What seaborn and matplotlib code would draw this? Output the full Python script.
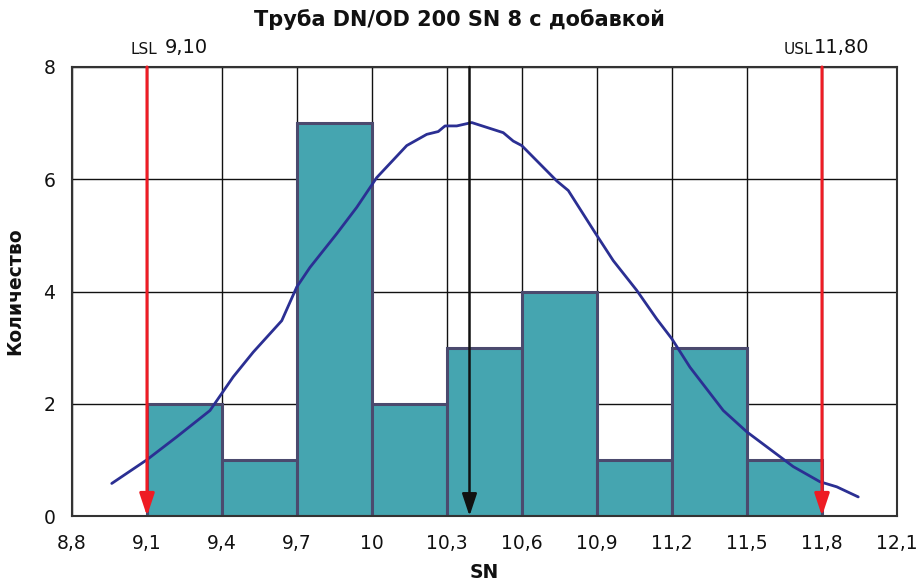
import numpy as np
import pandas as pd
import matplotlib
matplotlib.use('Agg')
import matplotlib.pyplot as plt
import seaborn as sns

### data
bin_edges = [9.1, 9.4, 9.7, 10.0, 10.3, 10.6, 10.9, 11.2, 11.5, 11.8]
counts = [2, 1, 7, 2, 3, 4, 1, 3, 1]

# fitted curve
curve_x = [8.959, 9.099, 9.219, 9.352, 9.445, 9.525, 9.639, 9.699, 9.752, 9.859,
           9.939, 10.019, 10.139, 10.219, 10.265, 10.292, 10.339, 10.399, 10.525,
           10.565, 10.599, 10.739, 10.785, 10.892, 10.965, 11.059, 11.139, 11.199,
           11.272, 11.405, 11.499, 11.685, 11.792, 11.859, 11.945]
curve_y = [0.58, 1.00, 1.41, 1.88, 2.48, 2.92, 3.48, 4.08, 4.43, 5.03,
           5.50, 6.03, 6.60, 6.80, 6.85, 6.95, 6.95, 7.01, 6.83,
           6.68, 6.60, 5.97, 5.80, 5.05, 4.55, 4.02, 3.51, 3.16,
           2.65, 1.88, 1.50, 0.88, 0.61, 0.52, 0.34]

lsl = 9.10
usl = 11.80
mean = 10.39

x_ticks = [8.8, 9.1, 9.4, 9.7, 10.0, 10.3, 10.6, 10.9, 11.2, 11.5, 11.8, 12.1]
x_ticklabels = ['8,8', '9,1', '9,4', '9,7', '10', '10,3', '10,6', '10,9',
                '11,2', '11,5', '11,8', '12,1']
y_ticks = [0, 2, 4, 6, 8]

title = 'Труба DN/OD 200 SN 8 с добавкой'

#%% plot
sns.set_style('white')
plt.rcParams['font.family'] = ['DejaVu Sans']

bins_df = pd.DataFrame({
    'center': [(a + b) / 2 for a, b in zip(bin_edges[:-1], bin_edges[1:])],
    'count': counts})
curve_df = pd.DataFrame({'x': curve_x, 'y': curve_y})

fig = plt.figure(figsize=(9.18, 5.84), dpi=100)
ax = fig.add_axes([72 / 918, 1 - 516 / 584, (897 - 72) / 918, (516 - 67) / 584])

sns.histplot(data=bins_df, x='center', weights='count', bins=bin_edges, ax=ax,
             color='#45a5b0', alpha=1, edgecolor='#4b4a6e', linewidth=2.2, zorder=2)
sns.lineplot(data=curve_df, x='x', y='y', sort=False, ax=ax,
             color='#2b2f93', linewidth=2.0, zorder=3)

# spec limits and mean
for xv, col, lw in [(lsl, '#ee1c24', 2.2), (usl, '#ee1c24', 2.2), (mean, '#111111', 1.8)]:
    ax.annotate('', xy=(xv, 0), xytext=(xv, 8),
                arrowprops=dict(arrowstyle='-|>,head_width=0.3,head_length=0.9',
                                color=col, lw=lw,
                                mutation_scale=15, shrinkA=0, shrinkB=0),
                zorder=4)

ax.text(9.032, 8.17, 'LSL', fontsize=11, color='#111111', ha='left', va='bottom')
ax.text(9.172, 8.17, '9,10', fontsize=14, color='#111111', ha='left', va='bottom')
ax.text(11.648, 8.17, 'USL', fontsize=11, color='#111111', ha='left', va='bottom')
ax.text(11.768, 8.17, '11,80', fontsize=14, color='#111111', ha='left', va='bottom')

ax.set_xlim(8.8, 12.1)
ax.set_ylim(0, 8)
ax.set_xticks(x_ticks)
ax.set_xticklabels(x_ticklabels)
ax.set_yticks(y_ticks)
ax.tick_params(length=0, labelsize=13.5, colors='#111111')
ax.tick_params(axis='x', pad=13)
ax.tick_params(axis='y', pad=12)

ax.grid(True, color='#111111', linewidth=1.0, zorder=0)
ax.set_axisbelow(True)
for s in ax.spines.values():
    s.set_color('#333333')
    s.set_linewidth(1.5)

ax.set_xlabel('SN', fontsize=13.5, fontweight='bold', labelpad=7, color='#111111')
ax.set_ylabel('Количество', fontsize=13.5, fontweight='bold', labelpad=14, color='#111111')
fig.text(0.5, 1 - 20 / 584, title, fontsize=15, fontweight='bold',
         ha='center', va='center', color='#111111')

fig.savefig('out.png', dpi=100)
